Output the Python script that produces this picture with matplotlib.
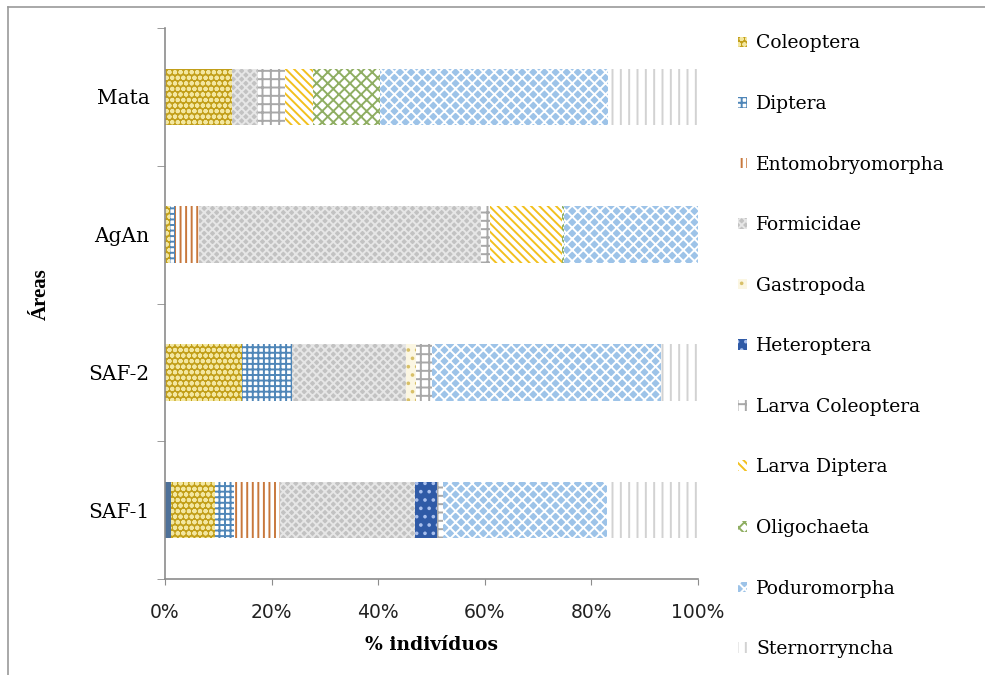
import matplotlib
matplotlib.use('Agg')
import matplotlib.pyplot as plt
from matplotlib.lines import Line2D

areas = ['SAF-1', 'SAF-2', 'AgAn', 'Mata']

# % of individuals per group, order of areas above
outros = [1.1, 0, 0, 0]  # first series, no legend entry in the original
coleoptera = [8.3, 14.4, 1.0, 12.6]
diptera = [3.6, 9.4, 0.8, 0]
entomobryomorpha = [8.5, 0, 4.5, 0]
formicidae = [25.4, 21.4, 53.0, 4.9]
gastropoda = [0, 1.8, 0, 0]
heteroptera = [4.1, 0, 0, 0]
larva_coleoptera = [1.2, 3.0, 1.7, 5.0]
larva_diptera = [0, 0, 13.5, 5.3]
oligochaeta = [0, 0, 0.3, 12.6]
poduromorpha = [30.8, 43.0, 25.2, 42.8]
sternorryncha = [17.0, 7.0, 0, 16.9]

series = [
    ('_nolegend_', outros, '#4f7199', '#4f7199', ''),
    ('Coleoptera', coleoptera, '#c29f1a', '#f3e7a0', 'ooo'),
    ('Diptera', diptera, 'white', '#4f86b8', '+++'),
    ('Entomobryomorpha', entomobryomorpha, 'white', '#c8783c', '|||'),
    ('Formicidae', formicidae, '#c2c2c2', '#e6e6e6', 'xxxx'),
    ('Gastropoda', gastropoda, '#fbf6e2', '#d8c068', '..'),
    ('Heteroptera', heteroptera, '#2f5aa6', '#a9c0ee', '..'),
    ('Larva Coleoptera', larva_coleoptera, 'white', '#a8a8a8', '++'),
    ('Larva Diptera', larva_diptera, 'white', '#f2c01e', '\\\\\\\\'),
    ('Oligochaeta', oligochaeta, 'white', '#8fae62', 'xxx'),
    ('Poduromorpha', poduromorpha, '#9dc3e8', 'white', 'xxx'),
    ('Sternorryncha', sternorryncha, 'white', '#d2d2d2', '||'),
]

plt.rcParams['hatch.linewidth'] = 1.4
plt.rcParams['font.family'] = 'DejaVu Serif'

fig = plt.figure(figsize=(9.85, 6.75), dpi=100)
ax = fig.add_axes([165 / 985, 1 - 579 / 675, (698 - 165) / 985, (579 - 28) / 675])

y = list(range(len(areas)))
left = [0.0] * len(areas)
handles = []
for name, vals, face, hatchcol, hatch in series:
    bars = ax.barh(y, vals, height=0.41, left=left, color=face, edgecolor=hatchcol,
                   hatch=hatch, linewidth=0, label=name)
    left = [a + b for a, b in zip(left, vals)]
    if name != '_nolegend_':
        handles.append(bars)

ax.set_xlim(0, 100)
ax.set_ylim(-0.5, len(areas) - 0.5)
ax.set_xticks(range(0, 101, 20))
ax.set_xticklabels(['%d%%' % v for v in range(0, 101, 20)], family='DejaVu Sans',
                   fontsize=13.5, color='#222222')
ax.set_yticks(y)
ax.set_yticklabels(areas, fontsize=14.5)
ax.set_yticks([i - 0.5 for i in range(len(areas) + 1)], minor=True)
ax.tick_params(axis='y', which='major', length=0, pad=11)
ax.tick_params(axis='y', which='minor', length=6, color='#8c8c8c', direction='out')
ax.tick_params(axis='x', length=4, color='#8c8c8c', direction='out', pad=13)

for s in ['top', 'right']:
    ax.spines[s].set_visible(False)
for s in ['left', 'bottom']:
    ax.spines[s].set_color('#8c8c8c')
    ax.spines[s].set_linewidth(1.2)

ax.set_xlabel('% indivíduos', fontsize=13.5, fontweight='bold', labelpad=10)
fig.text(41 / 985, 1 - 294 / 675, 'Áreas', rotation=90, ha='center', va='center',
         fontsize=15, fontweight='bold', family='Liberation Serif')

fig.legend(handles=handles, labels=[s[0] for s in series[1:]],
           loc='upper left', bbox_to_anchor=(730 / 985, 1 - 27 / 675),
           frameon=False, fontsize=13.5, handlelength=0.5, handleheight=0.5,
           handletextpad=0.5, labelspacing=2.27, borderaxespad=0)

# thin frame around the chart area (top and left edges visible)
fig.add_artist(Line2D([8 / 985, 1], [1 - 7 / 675, 1 - 7 / 675], transform=fig.transFigure,
                      color='#9a9a9a', lw=1.2))
fig.add_artist(Line2D([8 / 985, 8 / 985], [0, 1 - 7 / 675], transform=fig.transFigure,
                      color='#9a9a9a', lw=1.2))

fig.savefig('out.png', dpi=100)
